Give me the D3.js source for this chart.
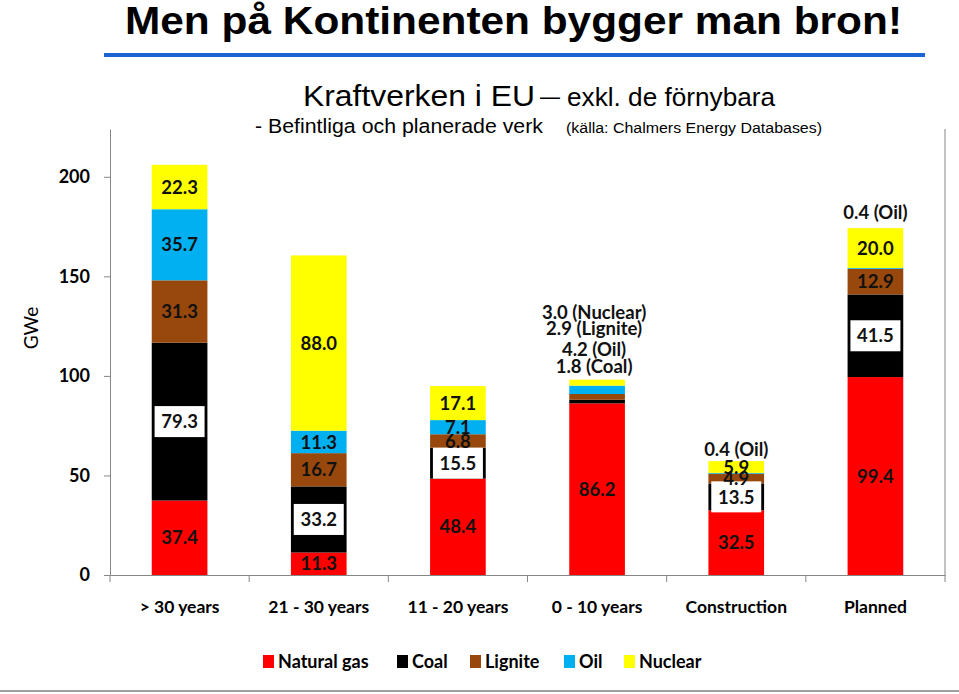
<!DOCTYPE html>
<html><head><meta charset="utf-8">
<script src="https://cdn.jsdelivr.net/npm/d3@7"></script>
<style>
html,body{margin:0;padding:0;background:#fff;}
svg{display:block;}
</style></head>
<body>
<svg id="chart" width="959" height="694"></svg>
<script>
const categories = ["> 30 years", "21 - 30 years", "11 - 20 years", "0 - 10 years", "Construction", "Planned"];
const seriesNames = ["Natural gas", "Coal", "Lignite", "Oil", "Nuclear"];
const naturalGas = [37.4, 11.3, 48.4, 86.2, 32.5, 99.4];
const coal       = [79.3, 33.2, 15.5, 1.8, 13.5, 41.5];
const lignite    = [31.3, 16.7, 6.8, 2.9, 4.9, 12.9];
const oil        = [35.7, 11.3, 7.1, 4.2, 0.4, 0.4];
const nuclear    = [22.3, 88.0, 17.1, 3.0, 5.9, 20.0];
const yTicks = [0, 50, 100, 150, 200];
const colors = ["#ff0000", "#000000", "#98480c", "#00b0f0", "#ffff00"];
const notesAbove = {
  "0 - 10 years": ["3.0 (Nuclear)", "2.9 (Lignite)", "4.2 (Oil)", "1.8 (Coal)"],
  "Construction": ["0.4 (Oil)"],
  "Planned": ["0.4 (Oil)"]
};
const noteOffset = {"0 - 10 years": 7, "Construction": 5, "Planned": 9};

const seriesValues = [naturalGas, coal, lignite, oil, nuclear];
const rows = categories.map((c, i) => {
  const r = {cat: c};
  seriesNames.forEach((s, j) => r[s] = seriesValues[j][i]);
  return r;
});
const stack = d3.stack().keys(seriesNames)(rows);

const svg = d3.select("#chart");
const LF = "Lato, 'Open Sans', sans-serif";
const AF = "'Liberation Sans', Arial, sans-serif";

// Header
svg.append("text").attr("x", 125).attr("y", 34)
  .attr("font-family", AF).attr("font-weight", "bold").attr("font-size", 39)
  .attr("textLength", 777).attr("lengthAdjust", "spacingAndGlyphs")
  .text("Men på Kontinenten bygger man bron!");
svg.append("rect").attr("x", 104).attr("y", 53).attr("width", 821).attr("height", 4).attr("fill", "#1c64d4");
svg.append("text").attr("x", 303).attr("y", 106)
  .attr("font-family", AF).attr("font-size", 29)
  .attr("textLength", 232).attr("lengthAdjust", "spacingAndGlyphs")
  .text("Kraftverken i EU");
svg.append("text").attr("x", 540).attr("y", 104)
  .attr("font-family", AF).attr("font-size", 24)
  .attr("textLength", 20).attr("lengthAdjust", "spacingAndGlyphs").text("–");
svg.append("text").attr("x", 567).attr("y", 106)
  .attr("font-family", AF).attr("font-size", 25)
  .attr("textLength", 208).attr("lengthAdjust", "spacingAndGlyphs")
  .text("exkl. de förnybara");
svg.append("text").attr("x", 255).attr("y", 133)
  .attr("font-family", AF).attr("font-size", 20.5)
  .attr("textLength", 288).attr("lengthAdjust", "spacingAndGlyphs")
  .text("- Befintliga och planerade verk");
svg.append("text").attr("x", 566).attr("y", 133)
  .attr("font-family", AF).attr("font-size", 15.5)
  .attr("textLength", 256).attr("lengthAdjust", "spacingAndGlyphs")
  .text("(källa: Chalmers Energy Databases)");

// Scales
const x = d3.scaleBand().domain(categories).range([110, 945]).paddingInner(0.6).paddingOuter(0.3);
const y = d3.scaleLinear().domain([0, 224]).range([575, 129]);

// Axes
const gy = svg.append("g").attr("transform", "translate(110,0)")
  .call(d3.axisLeft(y).tickValues(yTicks).tickSize(6).tickSizeOuter(0).tickPadding(14));
gy.select(".domain").attr("stroke", "#868686");
gy.selectAll(".tick line").attr("stroke", "#868686");
gy.selectAll(".tick text").attr("font-family", LF).attr("font-weight", "bold")
  .attr("font-size", 18).attr("fill", "#000");

const gx = svg.append("g").attr("transform", "translate(0,575)")
  .call(d3.axisBottom(x).tickSize(0).tickSizeOuter(0).tickPadding(26));
gx.select(".domain").attr("stroke", "#868686");
gx.selectAll(".tick text").attr("font-family", LF).attr("font-weight", "bold")
  .attr("font-size", 17.5).attr("fill", "#000");
const bounds = categories.map(c => x(c) - x.step() * x.paddingInner() / 2);
bounds[0] = x.range()[0];
bounds.push(x.range()[1]);
svg.append("g").selectAll("line").data(bounds).join("line")
  .attr("x1", d => d).attr("x2", d => d).attr("y1", 575).attr("y2", 582)
  .attr("stroke", "#868686");
svg.append("line").attr("x1", 945).attr("x2", 945).attr("y1", 129).attr("y2", 575).attr("stroke", "#868686");

svg.append("text").attr("transform", "translate(38,328) rotate(-90)")
  .attr("text-anchor", "middle").attr("font-family", LF).attr("font-size", 19)
  .text("GWe");

// Bars
const layers = svg.append("g").selectAll("g").data(stack).join("g")
  .attr("fill", (d, i) => colors[i]);
layers.selectAll("rect").data(d => d).join("rect")
  .attr("x", d => x(d.data.cat))
  .attr("width", x.bandwidth())
  .attr("y", d => y(d[1]))
  .attr("height", d => y(d[0]) - y(d[1]));

// Segment labels
const lab = svg.append("g").attr("font-family", LF).attr("font-weight", "bold").attr("font-size", 18.5)
  .attr("text-anchor", "middle").attr("fill", "#111");
stack.forEach((layer, si) => {
  layer.forEach(d => {
    const cat = d.data.cat;
    const v = d[1] - d[0];
    if (cat === "0 - 10 years" && si > 0) return;
    if ((cat === "Construction" || cat === "Planned") && si === 3) return;
    const cx = x(cat) + x.bandwidth() / 2;
    const cy = y((d[0] + d[1]) / 2);
    if (si === 1) {
      lab.append("rect").attr("x", cx - 25).attr("y", cy - 15.5).attr("width", 50).attr("height", 31).attr("fill", "#fff");
    }
    lab.append("text").attr("x", cx).attr("y", cy).attr("dy", "0.36em").text(v.toFixed(1));
  });
});

// Notes above bars
Object.entries(notesAbove).forEach(([cat, lines]) => {
  const idx = categories.indexOf(cat);
  const top = d3.sum(seriesValues, s => s[idx]);
  const cx = x(cat) + x.bandwidth() / 2 - (lines.length > 1 ? 3 : 0);
  const base = y(top) - noteOffset[cat];
  const gaps = lines.length > 1 ? [54, 38, 17, 0] : [0];
  lines.forEach((t, k) => {
    lab.append("text").attr("x", cx).attr("y", base - gaps[k]).text(t);
  });
});

// Legend
const legendX = [263, 397, 470, 564, 624];
const lg = svg.append("g").attr("font-family", LF).attr("font-weight", "bold").attr("font-size", 18);
seriesNames.forEach((s, i) => {
  lg.append("rect").attr("x", legendX[i]).attr("y", 655).attr("width", 11).attr("height", 13).attr("fill", colors[i]);
  lg.append("text").attr("x", legendX[i] + 15).attr("y", 668).text(s);
});

svg.append("rect").attr("x", 0).attr("y", 690).attr("width", 959).attr("height", 2).attr("fill", "#a0a0a0");
</script>
</body></html>
